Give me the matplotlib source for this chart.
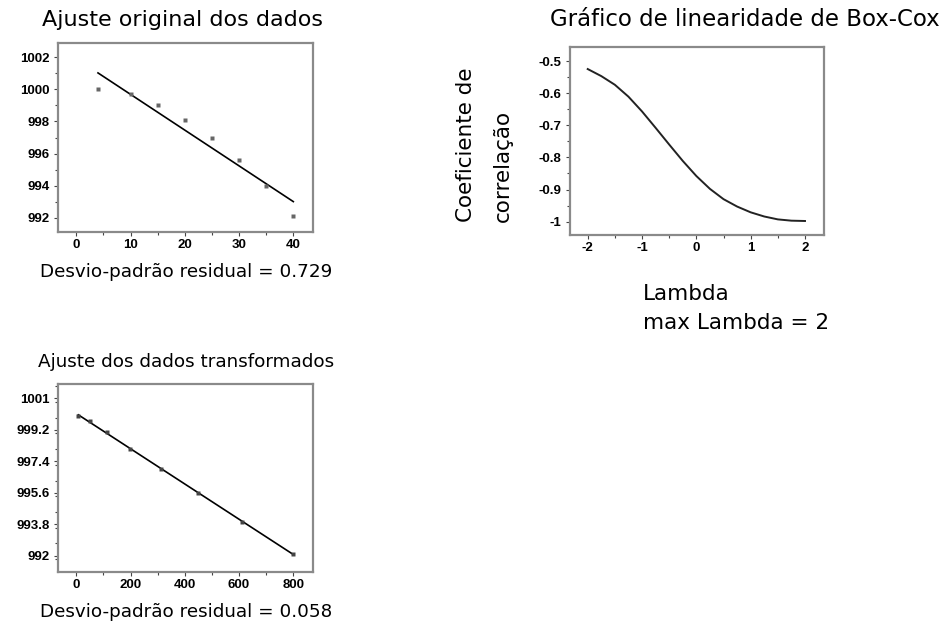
import numpy as np
import matplotlib
matplotlib.use("Agg")
import matplotlib.pyplot as plt
from matplotlib.ticker import MultipleLocator

# data
x_orig = [4, 10, 15, 20, 25, 30, 35, 40]
y_orig = [1000.0, 999.7, 999.05, 998.1, 996.95, 995.6, 993.95, 992.1]
x_trans = [7.5, 49.5, 112, 199.5, 312, 449.5, 612, 799.5]
lambdas = [-2, -1.75, -1.5, -1.25, -1, -0.75, -0.5, -0.25, 0,
           0.25, 0.5, 0.75, 1, 1.25, 1.5, 1.75, 2]
corr = [-0.525, -0.547, -0.574, -0.611, -0.657, -0.708, -0.760, -0.811, -0.858,
        -0.898, -0.930, -0.953, -0.971, -0.984, -0.993, -0.997, -0.998]
sd_orig = "0.729"
sd_trans = "0.058"
max_lambda = "2"

plt.rcParams['font.family'] = ['DejaVu Sans']
W, H = 944, 635
fig = plt.figure(figsize=(W / 100, H / 100), dpi=100)

def box(x0, y0, x1, y1):
    # pixel box -> figure fraction
    return [x0 / W, 1 - y1 / H, (x1 - x0) / W, (y1 - y0) / H]

def style(ax):
    for s in ax.spines.values():
        s.set_color('#8a8a8a')
        s.set_linewidth(1.6)
    ax.tick_params(which='both', direction='out', color='#444444',
                   labelsize=9.5, width=0.8)
    ax.tick_params(which='major', length=3)
    ax.tick_params(which='minor', length=2.5)
    ax.tick_params(axis='y', pad=3)
    ax.tick_params(axis='x', pad=2)
    for lab in ax.get_xticklabels() + ax.get_yticklabels():
        lab.set_fontfamily('Liberation Sans')
        lab.set_fontweight('bold')

# --- original fit
ax1 = fig.add_axes(box(58, 43, 313, 232))
b1 = np.polyfit(x_orig, y_orig, 1)
ax1.plot(x_orig, np.polyval(b1, x_orig), color='black', lw=1.2)
ax1.plot(x_orig, y_orig, 's', color='#666666', ms=2.6, mec='none')
ax1.set_xlim(-3.37, 43.63)
ax1.set_ylim(991.11, 1002.89)
ax1.set_xticks([0, 10, 20, 30, 40])
ax1.set_yticks([992, 994, 996, 998, 1000, 1002])
ax1.xaxis.set_minor_locator(MultipleLocator(5))
ax1.yaxis.set_minor_locator(MultipleLocator(1))
style(ax1)

# --- Box-Cox linearity
ax2 = fig.add_axes(box(570, 47, 824, 235))
ax2.plot(lambdas, corr, color='#222222', lw=1.4)
ax2.set_xlim(-2.326, 2.35)
ax2.set_ylim(-1.0416, -0.4564)
ax2.set_xticks([-2, -1, 0, 1, 2])
ax2.set_xticklabels(['-2', '-1', '0', '1', '2'])
ax2.set_yticks([-1, -0.9, -0.8, -0.7, -0.6, -0.5])
ax2.set_yticklabels(['-1', '-0.9', '-0.8', '-0.7', '-0.6', '-0.5'])
ax2.xaxis.set_minor_locator(MultipleLocator(0.5))
ax2.yaxis.set_minor_locator(MultipleLocator(0.05))
style(ax2)

# --- transformed fit
ax3 = fig.add_axes(box(58, 384, 313, 572))
b3 = np.polyfit(x_trans, y_orig, 1)
ax3.plot(x_trans, np.polyval(b3, x_trans), color='black', lw=1.2)
ax3.plot(x_trans, y_orig, 's', color='#444444', ms=2.6, mec='none')
ax3.set_xlim(-67.5, 872.6)
ax3.set_ylim(991.07, 1001.82)
ax3.set_xticks([0, 200, 400, 600, 800])
ax3.set_yticks([992, 993.8, 995.6, 997.4, 999.2, 1001])
ax3.set_yticklabels(['992', '993.8', '995.6', '997.4', '999.2', '1001'])
ax3.xaxis.set_minor_locator(MultipleLocator(100))
ax3.yaxis.set_minor_locator(MultipleLocator(0.9))
style(ax3)

# texts
fig.text(182 / W, 1 - 20 / H, 'Ajuste original dos dados', ha='center', va='center', fontsize=16)
fig.text(745 / W, 1 - 20 / H, 'Gráfico de linearidade de Box-Cox', ha='center', va='center', fontsize=16.5)
fig.text(186 / W, 1 - 362 / H, 'Ajuste dos dados transformados', ha='center', va='center', fontsize=13.2)
fig.text(40 / W, 1 - 272 / H, 'Desvio-padrão residual = ' + sd_orig, ha='left', va='center', fontsize=13.2)
fig.text(40 / W, 1 - 612 / H, 'Desvio-padrão residual = ' + sd_trans, ha='left', va='center', fontsize=13.2)
fig.text(643 / W, 1 - 294 / H, 'Lambda', ha='left', va='center', fontsize=15.5)
fig.text(643 / W, 1 - 323 / H, 'max Lambda = ' + max_lambda, ha='left', va='center', fontsize=15.5)
fig.text(466 / W, 1 - 222 / H, 'Coeficiente de', ha='center', va='bottom',
         rotation=90, fontsize=15.5)
fig.text(503 / W, 1 - 222 / H, 'correlação', ha='center', va='bottom',
         rotation=90, fontsize=15.5)

fig.savefig('out.png', dpi=100)
